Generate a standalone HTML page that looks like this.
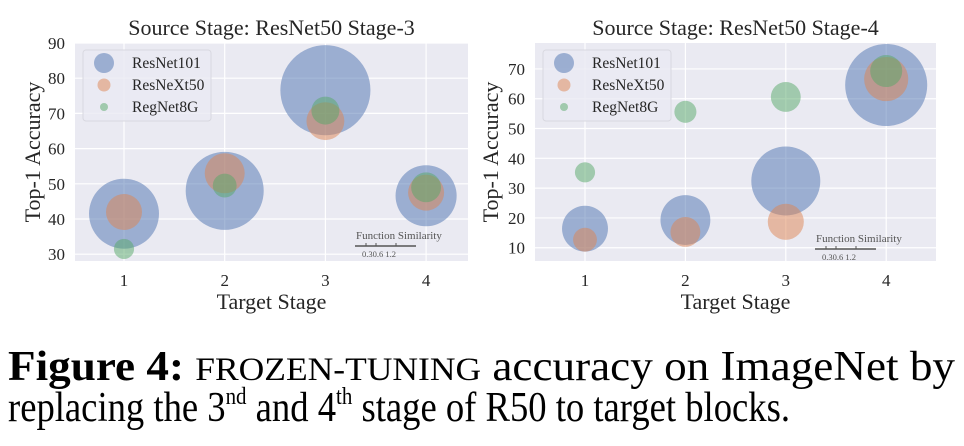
<!DOCTYPE html>
<html><head><meta charset="utf-8"><style>
html,body{margin:0;padding:0;background:#fff;}
svg{display:block;font-family:"Liberation Serif",serif;}
</style></head><body>
<svg id="fig" width="964" height="446" viewBox="0 0 964 446" xmlns="http://www.w3.org/2000/svg">
<g id="charts"></g>
<text x="8" y="380" font-size="42" textLength="947" lengthAdjust="spacingAndGlyphs"><tspan font-weight="bold">Figure 4:</tspan> <tspan font-size="33">FROZEN-TUNING</tspan> accuracy on ImageNet by</text>
<text x="8" y="421" font-size="42" textLength="782" lengthAdjust="spacingAndGlyphs">replacing the 3<tspan font-size="24" dy="-17">nd</tspan><tspan dy="17"> and 4</tspan><tspan font-size="24" dy="-17">th</tspan><tspan dy="17"> stage of R50 to target blocks.</tspan></text>
</svg>
<script>
const stages=[1,2,3,4];
// Left chart: Source ResNet50 Stage-3
const leftR101Acc=[41.5,48,76.6,46.6];
const leftR101Sim=[1.81,2.25,3.0,1.38];
const leftRX50Acc=[42,53,67.8,47.5];
const leftRX50Sim=[0.48,0.59,0.53,0.48];
const leftReg8Acc=[31.5,49.5,70.8,49];
const leftReg8Sim=[0.15,0.21,0.29,0.33];
const leftYTicks=[30,40,50,60,70,80,90];
// Right chart: Source ResNet50 Stage-4
const rightR101Acc=[16.4,19.3,32.4,64.6];
const rightR101Sim=[0.78,0.92,1.76,2.49];
const rightRX50Acc=[12.7,15.3,18.7,66.6];
const rightRX50Sim=[0.21,0.33,0.48,0.72];
const rightReg8Acc=[35.3,55.6,60.6,69.3];
const rightReg8Sim=[0.15,0.18,0.33,0.38];
const rightYTicks=[10,20,30,40,50,60,70];
const seriesNames=["ResNet101","ResNeXt50","RegNet8G"];
const colors=["#4c72b0","#dd8452","#55a868"];

const NS="http://www.w3.org/2000/svg";
const root=document.getElementById('charts');
function mk(tag,attrs,parent){const e=document.createElementNS(NS,tag);for(const k in attrs)e.setAttribute(k,attrs[k]);parent.appendChild(e);return e;}

function chart(cfg){
  const g=mk('g',{},root);
  
  
  const {x0,x1,y0,y1,vTop,vBot}=cfg;
  const bg=mk('rect',{x:x0,y:y0,width:x1-x0,height:y1-y0,fill:'#eaeaf2'},g);
  
  
  const ys=v=>y0+(vTop-v)/(vTop-vBot)*(y1-y0);
  const xs=s=>cfg.xc1+(s-1)*cfg.xstep;
  const rs=s=>26*Math.sqrt(s);
  cfg.yTicks.forEach(t=>{
    const y=ys(t);
    const l=mk('line',{x1:x0,x2:x1,y1:y,y2:y,stroke:'#fff','stroke-width':1.2},g);
    
    
    const tx=mk('text',{x:x0-10,y:y+6,'font-size':17,'text-anchor':'end',fill:'#262626'},g);
    tx.textContent=t;
    
    
  });
  stages.forEach(s=>{
    const x=xs(s);
    const l=mk('line',{x1:x,x2:x,y1:y0,y2:y1,stroke:'#fff','stroke-width':1.2},g);
    
    
    const tx=mk('text',{x:x,y:y1+25,'font-size':17,'text-anchor':'middle',fill:'#262626'},g);
    tx.textContent=s;
    
    
  });
  cfg.series.forEach((ser,si)=>{
    ser.acc.forEach((v,i)=>{
      const c=mk('circle',{cx:xs(stages[i]),cy:ys(v),r:rs(ser.sim[i]),fill:colors[si],'fill-opacity':0.5},g);
      
      
    });
  });
  const t=mk('text',{x:(x0+x1)/2,y:35,'font-size':22,'text-anchor':'middle',fill:'#262626'},g);
  t.textContent=cfg.title;
  
  
  const xl=mk('text',{x:(x0+x1)/2,y:309,'font-size':22,'text-anchor':'middle',fill:'#262626'},g);
  xl.textContent='Target Stage';
  
  
  const yl=mk('text',{x:0,y:0,'font-size':22,'text-anchor':'middle',fill:'#262626',transform:`translate(${cfg.ylx},${(y0+y1)/2}) rotate(-90)`},g);
  yl.textContent='Top-1 Accuracy';
  
  
  // legend
  const lg=mk('g',{},g);
  
  
  mk('rect',{x:cfg.lx,y:50,width:128,height:71,rx:3,fill:'#eaeaf2','fill-opacity':0.8,stroke:'#d8d8e0'},lg);
  const lr=[10,6.5,4];
  seriesNames.forEach((n,i)=>{
    const ly=63+i*22;
    const e=mk('g',{},lg);
    
    
    mk('circle',{cx:cfg.lx+21,cy:ly,r:lr[i],fill:colors[i],'fill-opacity':0.5},e);
    const tx=mk('text',{x:cfg.lx+49,y:ly+5,'font-size':15.5,fill:'#262626'},e);
    tx.textContent=n;
  });
  // size legend
  const sl=mk('g',{},g);
  
  
  const sx=cfg.slx, sy=cfg.sly;
  const st=mk('text',{x:sx,y:sy,'font-size':11,fill:'#555'},sl);
  st.textContent='Function Similarity';
  mk('line',{x1:sx-1,x2:sx+60,y1:sy+7,y2:sy+7,stroke:'#555','stroke-width':1.4},sl);
  [10,20,40].forEach(d=>mk('line',{x1:sx+d,x2:sx+d,y1:sy+4,y2:sy+7,stroke:'#555'},sl));
  const s2=mk('text',{x:sx+6,y:sy+18,'font-size':8.5,fill:'#555'},sl);
  s2.textContent='0.30.6   1.2';
}

chart({name:'chart-stage3',title:'Source Stage: ResNet50 Stage-3',x0:75,x1:468,y0:43,y1:261,vTop:90,vBot:90-218/3.52,
  xc1:124,xstep:100.7,yTicks:leftYTicks,ylx:40,lx:83,slx:356,sly:239,
  series:[{acc:leftR101Acc,sim:leftR101Sim},{acc:leftRX50Acc,sim:leftRX50Sim},{acc:leftReg8Acc,sim:leftReg8Sim}]});
chart({name:'chart-stage4',title:'Source Stage: ResNet50 Stage-4',x0:535,x1:936,y0:43,y1:261,vTop:78.7,vBot:78.7-218/2.98,
  xc1:585,xstep:100.4,yTicks:rightYTicks,ylx:498,lx:543,slx:816,sly:242,
  series:[{acc:rightR101Acc,sim:rightR101Sim},{acc:rightRX50Acc,sim:rightRX50Sim},{acc:rightReg8Acc,sim:rightReg8Sim}]});
</script>
</body></html>
